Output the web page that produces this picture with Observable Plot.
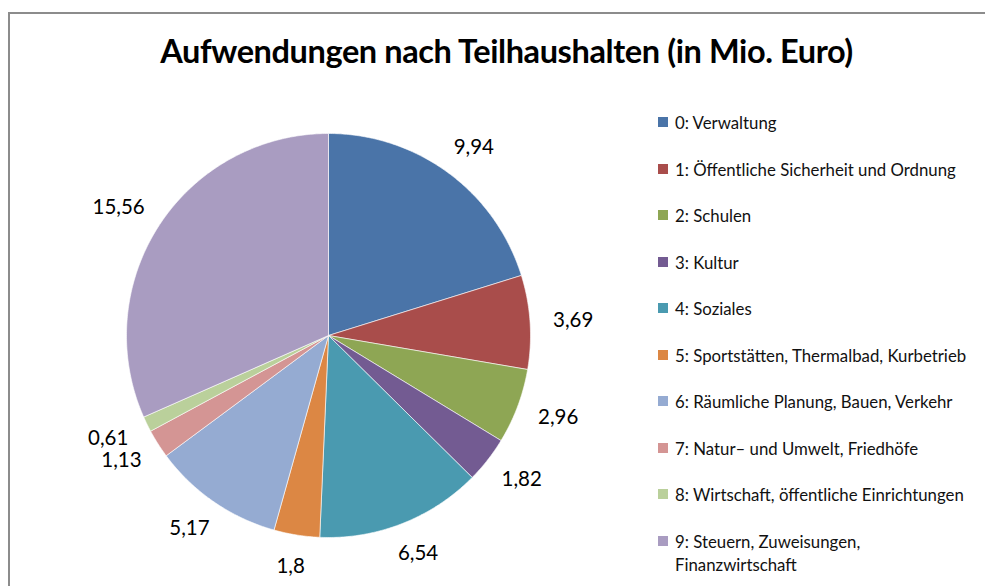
<!DOCTYPE html>
<html>
<head>
<meta charset="utf-8">
<script src="https://cdn.jsdelivr.net/npm/d3@7"></script>
<script src="https://cdn.jsdelivr.net/npm/@observablehq/plot@0.6"></script>
<style>
  html, body { margin: 0; padding: 0; background: #fff; }
  #wrap { position: relative; width: 985px; height: 586px; overflow: hidden; font-family: Lato, "Open Sans", sans-serif; }
  #frame { position: absolute; left: 8px; top: 12px; width: 990px; height: 600px; border-top: 2px solid #8c8c8c; border-left: 2px solid #8c8c8c; box-sizing: border-box; }
  #title { position: absolute; left: 14px; width: 985px; top: 31px; text-align: center; font-size: 32.5px; font-weight: bold; color: #000; letter-spacing: -0.4px; }
  #chart { position: absolute; left: 0; top: 0; }
  .lg { position: absolute; left: 658px; font-size: 16.8px; color: #111; line-height: 23px; }
  .sw { position: absolute; left: 0; top: 6px; width: 10px; height: 10px; }
  .lt { position: absolute; left: 17px; top: 0; white-space: nowrap; }
</style>
</head>
<body>
<div id="wrap">
  <div id="frame"></div>
  <div id="chart"></div>
  <div id="title">Aufwendungen nach Teilhaushalten (in Mio. Euro)</div>
  <div id="legend"></div>
</div>
<script>
// ---- data ----
const categories = [
  "0: Verwaltung",
  "1: Öffentliche Sicherheit und Ordnung",
  "2: Schulen",
  "3: Kultur",
  "4: Soziales",
  "5: Sportstätten, Thermalbad, Kurbetrieb",
  "6: Räumliche Planung, Bauen, Verkehr",
  "7: Natur– und Umwelt, Friedhöfe",
  "8: Wirtschaft, öffentliche Einrichtungen",
  "9: Steuern, Zuweisungen, Finanzwirtschaft"
];
const legendLines = [
  ["0: Verwaltung"],
  ["1: Öffentliche Sicherheit und Ordnung"],
  ["2: Schulen"],
  ["3: Kultur"],
  ["4: Soziales"],
  ["5: Sportstätten, Thermalbad, Kurbetrieb"],
  ["6: Räumliche Planung, Bauen, Verkehr"],
  ["7: Natur– und Umwelt, Friedhöfe"],
  ["8: Wirtschaft, öffentliche Einrichtungen"],
  ["9: Steuern, Zuweisungen,", "Finanzwirtschaft"]
];
const values = [9.94, 3.69, 2.96, 1.82, 6.54, 1.8, 5.17, 1.13, 0.61, 15.56];
const valueLabels = ["9,94", "3,69", "2,96", "1,82", "6,54", "1,8", "5,17", "1,13", "0,61", "15,56"];
const colors = ["#4a74a8", "#a94d4b", "#8ea654", "#735b92", "#4a9ab0", "#dc8744", "#95abd2", "#d49594", "#bad09b", "#a99cc1"];

// ---- layout ----
const W = 985, H = 586;
const cx = 328, cy = 335, R = 202;
const labelGap = 22, charW = 10.6, labelH = 20;

// ---- geometry from data ----
const arcs = d3.pie().sort(null).value(d => d)(values);
const polyPts = [];
arcs.forEach((a, i) => {
  const n = Math.max(2, Math.ceil((a.endAngle - a.startAngle) / 0.01));
  polyPts.push({cat: categories[i], x: 0, y: 0});
  for (let k = 0; k <= n; k++) {
    const t = a.startAngle + (a.endAngle - a.startAngle) * k / n;
    polyPts.push({cat: categories[i], x: Math.sin(t), y: Math.cos(t)});
  }
  polyPts.push({cat: categories[i], x: 0, y: 0});
});
const labels = arcs.map((a, i) => {
  const m = (a.startAngle + a.endAngle) / 2;
  const dx = Math.sin(m), dy = Math.cos(m);
  const w = valueLabels[i].length * charW;
  const px = dx * (R + labelGap) + dx * w / 2;
  const py = dy * (R + labelGap) + dy * labelH / 2;
  return {text: valueLabels[i], x: px / R, y: py / R};
});

const chart = Plot.plot({
  width: W, height: H,
  margin: 0,
  x: {domain: [-1, 1], range: [cx - R, cx + R], axis: null},
  y: {domain: [-1, 1], range: [cy + R, cy - R], axis: null},
  color: {domain: categories, range: colors},
  style: {background: "transparent"},
  marks: [
    Plot.line(polyPts, {x: "x", y: "y", z: "cat", fill: "cat", stroke: "white", strokeWidth: 0.6, curve: "linear"}),
    Plot.text(labels, {x: "x", y: "y", text: "text", fontSize: 20.5, fill: "#000", fontFamily: "Lato, sans-serif"})
  ]
});
document.getElementById("chart").appendChild(chart);

// ---- legend ----
const lg = document.getElementById("legend");
const rowTop = 111, rowStep = 46.5;
legendLines.forEach((lines, i) => {
  const item = document.createElement("div");
  item.className = "lg";
  item.style.top = (rowTop + i * rowStep) + "px";
  const sw = document.createElement("div");
  sw.className = "sw";
  sw.style.background = colors[i];
  item.appendChild(sw);
  const t = document.createElement("div");
  t.className = "lt";
  t.innerHTML = lines.join("<br>");
  item.appendChild(t);
  lg.appendChild(item);
});
</script>
</body>
</html>
